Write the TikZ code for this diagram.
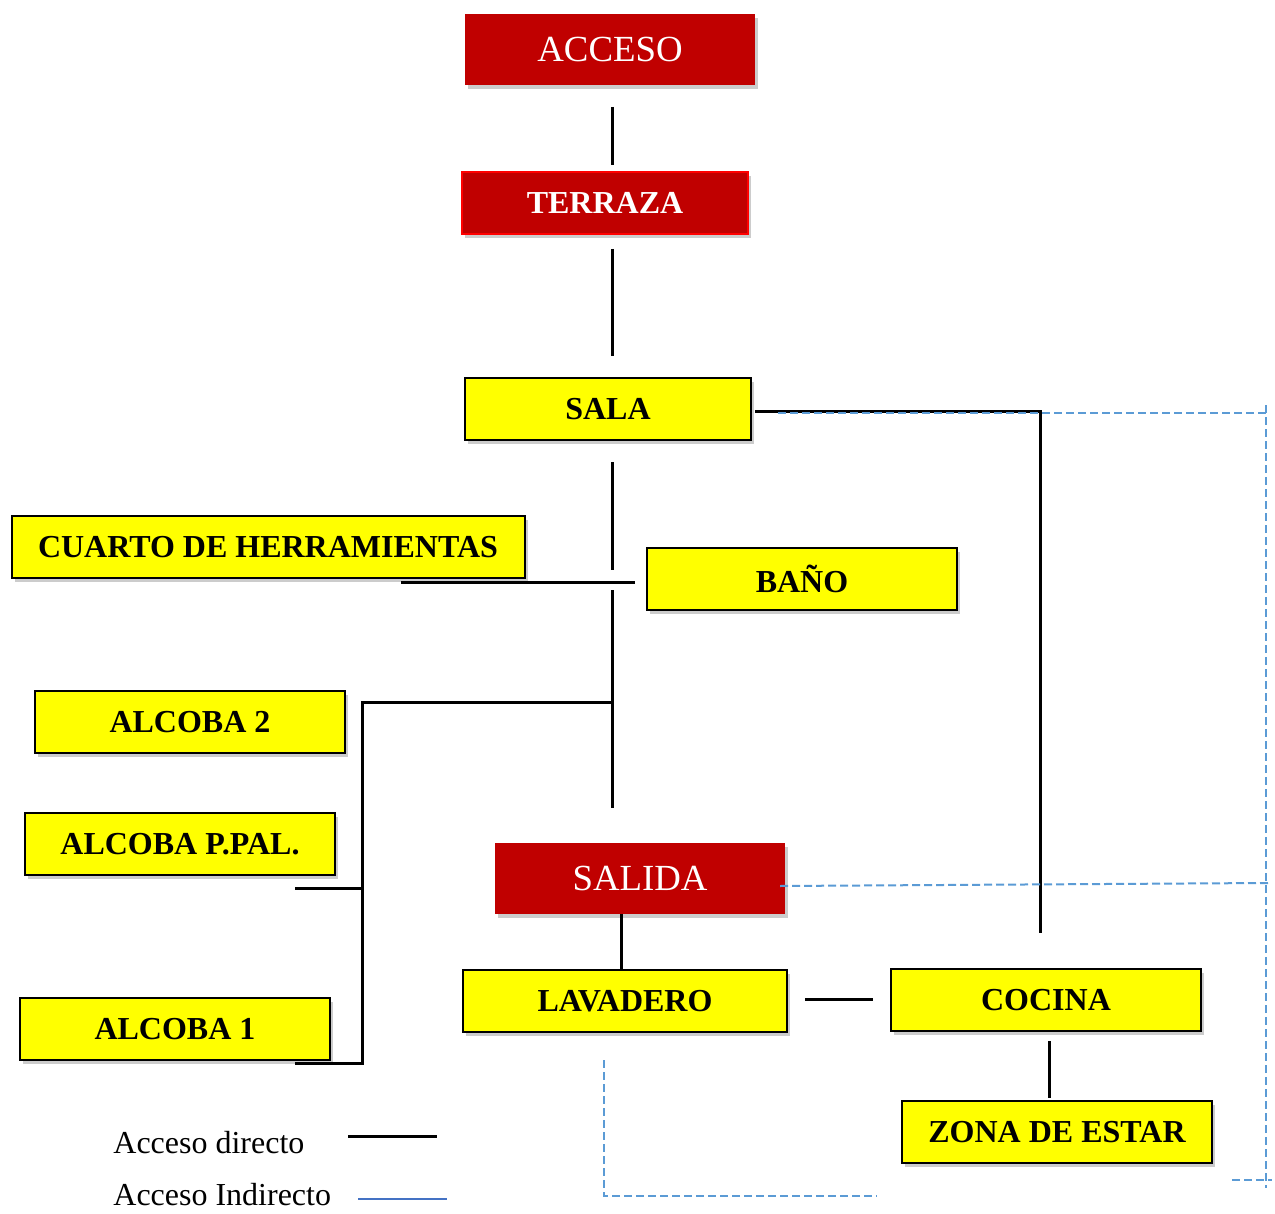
\documentclass[tikz,border=0pt]{standalone}
\usepackage{fontspec}
\setmainfont{Liberation Serif}
\usepackage{xcolor}
\usepackage{tikz}
\usetikzlibrary{positioning,calc,shadows}
\definecolor{CasaRed}{RGB}{192,0,0}
\definecolor{CasaYellow}{RGB}{255,255,0}
\definecolor{CasaBlue}{RGB}{91,155,213}
\definecolor{LegendBlue}{RGB}{68,114,196}
\tikzset{
    roombox/.style={rectangle, draw=black, line width=1pt, fill=CasaYellow, minimum width=155pt, minimum height=31pt, inner sep=0pt, font=\fontsize{16}{19}\selectfont\bfseries, drop shadow={shadow xshift=1.5pt, shadow yshift=-2pt, opacity=0.4}},
    exitbox/.style={rectangle, fill=CasaRed, text=white, minimum width=145pt, minimum height=35.5pt, inner sep=0pt, font=\fontsize{18.4}{22}\selectfont, drop shadow={shadow xshift=1.5pt, shadow yshift=-2pt, opacity=0.4}},
    link/.style={draw=black, line width=1.5pt},
    indirect/.style={draw=CasaBlue, line width=1pt, dash pattern=on 4pt off 2pt}
}
\begin{document}
\begin{tikzpicture}[
                x=0.5pt, y=-0.5pt,
                legendtext/.style={anchor=west, inner sep=0pt, font=\fontsize{16}{19}\selectfont}
            ]
                \useasboundingbox (0,0) rectangle (1275,1214);

                % recintos
                \node[exitbox] (acceso) at (610, 50) {ACCESO};
                \node[exitbox, draw=red, line width=0.75pt, minimum width=143pt, minimum height=31pt, font=\fontsize{16}{19}\selectfont\bfseries] (terraza) at (605, 203) {TERRAZA};
                \node[roombox, minimum width=143pt] (sala) at (608, 409) {SALA};
                \node[roombox, minimum width=256.5pt] (cuarto) at (268, 547) {CUARTO DE HERRAMIENTAS};
                \node[roombox] (bano) at (802, 579) {BAÑO};
                \node[roombox] (alcoba2) at (190, 722) {ALCOBA 2};
                \node[roombox] (alcobappal) at (180, 844) {ALCOBA P.PAL.};
                \node[exitbox] (salida) at (640, 878) {SALIDA};
                \node[roombox] (alcoba1) at (175, 1029) {ALCOBA 1};
                \node[roombox, minimum width=162pt] (lavadero) at (625, 1001) {LAVADERO};
                \node[roombox] (cocina) at (1046, 1000) {COCINA};
                \node[roombox] (zona) at (1057, 1132) {ZONA DE ESTAR};

                % puntos de los trazos
                \coordinate (accB) at (612, 107);
                \coordinate (terT) at (612, 165);
                \coordinate (terB) at (612, 249);
                \coordinate (salT) at (612, 356);
                \coordinate (salB) at (612, 462);
                \coordinate (hubT) at (612, 570);
                \coordinate (hubL) at (401, 582);
                \coordinate (hubR) at (635, 582);
                \coordinate (hubB) at (612, 590);
                \coordinate (pasB) at (612, 808);
                \coordinate (alcJ) at (612, 702);
                \coordinate (alcC) at (362, 702);
                \coordinate (ppalL) at (295, 888);
                \coordinate (ppalR) at (362, 888);
                \coordinate (alc1L) at (295, 1063);
                \coordinate (salaR) at (755, 411);
                \coordinate (cocT) at (1040, 933);
                \coordinate (lavR) at (805, 999);
                \coordinate (cocL) at (873, 999);
                \coordinate (cocB) at (1049, 1041);
                \coordinate (zonT) at (1049, 1098);

                % acceso directo
                \draw[link] (accB) -- (terT);
                \draw[link] (terB) -- (salT);
                \draw[link] (salB) -- (hubT);
                \draw[link] (hubL) -- (hubR);
                \draw[link] (hubB) -- (pasB);
                \draw[link] (alcJ) -- (alcC) |- (alc1L);
                \draw[link] (ppalL) -- (ppalR);
                \draw[link] (salida.south -| lavadero.north) ++(-4,0) -- ([xshift=-2pt]lavadero.north);
                \draw[link] (lavR) -- (cocL);
                \draw[link] (cocB) -- (zonT);
                \draw[link] (salaR) -| (cocT);

                % acceso indirecto
                \coordinate (ind1) at (778, 413);
                \coordinate (ind2) at (1266, 413);
                \coordinate (ind3) at (1266, 405);
                \coordinate (ind4) at (1266, 1188);
                \coordinate (ind5) at (780, 886);
                \coordinate (ind6) at (1268, 883);
                \coordinate (ind7) at (1232, 1180);
                \coordinate (ind8) at (1272, 1180);
                \coordinate (ind9) at (604, 1060);
                \coordinate (ind10) at (604, 1196);
                \coordinate (ind11) at (877, 1196);
                \draw[indirect] (ind1) -- (ind2);
                \draw[indirect] (ind3) -- (ind4);
                \draw[indirect] (ind5) -- (ind6);
                \draw[indirect] (ind7) -- (ind8);
                \draw[indirect] (ind9) -- (ind10) -- (ind11);

                % leyenda
                \node[legendtext] (leyD) at (113, 1143) {Acceso directo};
                \node[legendtext] (leyI) at (113, 1195) {Acceso Indirecto};
                \coordinate (leyD1) at (348, 1136);
                \coordinate (leyD2) at (437, 1136);
                \coordinate (leyI1) at (358, 1199);
                \coordinate (leyI2) at (447, 1199);
                \draw[link] (leyD1) -- (leyD2);
                \draw[draw=LegendBlue, line width=1pt] (leyI1) -- (leyI2);
            \end{tikzpicture}
\end{document}
